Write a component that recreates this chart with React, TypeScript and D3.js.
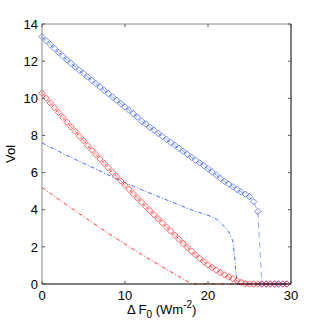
import React from 'react';
import * as d3 from 'd3';

// marker series sampled every 0.5 Wm^-2
const xGrid = [
  0, 0.5, 1, 1.5, 2, 2.5, 3, 3.5, 4, 4.5, 5, 5.5, 6, 6.5, 7, 7.5, 8, 8.5, 9, 9.5,
  10, 10.5, 11, 11.5, 12, 12.5, 13, 13.5, 14, 14.5, 15, 15.5, 16, 16.5, 17, 17.5, 18, 18.5, 19, 19.5,
  20, 20.5, 21, 21.5, 22, 22.5, 23, 23.5, 24, 24.5, 25, 25.5, 26, 26.5, 27, 27.5, 28, 28.5, 29, 29.5,
];

const blueMarkers = [
  13.32, 13.1, 12.89, 12.68, 12.47, 12.27, 12.07, 11.88, 11.69, 11.51, 11.33, 11.15, 10.97, 10.79, 10.61, 10.43, 10.25, 10.07, 9.89, 9.71,
  9.53, 9.35, 9.17, 8.99, 8.77, 8.61, 8.44, 8.28, 8.11, 7.95, 7.79, 7.63, 7.47, 7.31, 7.15, 6.99, 6.83, 6.67, 6.52, 6.37,
  6.21, 6.03, 5.86, 5.69, 5.53, 5.38, 5.23, 5.09, 4.96, 4.84, 4.7, 4.43, 3.9, 0, 0, 0, 0, 0, 0, 0,
];

const redMarkers = [
  10.27, 10.01, 9.75, 9.49, 9.23, 8.97, 8.71, 8.46, 8.21, 7.96, 7.71, 7.46, 7.21, 6.97, 6.73, 6.49, 6.25, 6.01, 5.78, 5.55,
  5.32, 5.09, 4.86, 4.63, 4.4, 4.17, 3.95, 3.73, 3.51, 3.29, 3.07, 2.85, 2.63, 2.41, 2.19, 1.98, 1.77, 1.57, 1.38, 1.2,
  1.03, 0.88, 0.74, 0.61, 0.49, 0.38, 0.28, 0.18, 0.09, 0.02, 0, 0, 0, 0, 0, 0, 0, 0, 0, 0,
];

const blueDashX = [0, 1, 2, 3, 4, 5, 6, 7, 8, 9, 10, 11, 12, 13, 14, 15, 16, 17, 18, 19, 20, 20.5, 21, 21.5, 22, 22.5, 23, 23.2, 23.35, 23.5, 30];
const blueDashY = [7.6, 7.37, 7.15, 6.93, 6.71, 6.5, 6.29, 6.08, 5.87, 5.66, 5.46, 5.27, 5.08, 4.89, 4.71, 4.53, 4.35, 4.17, 3.99, 3.84, 3.7, 3.61, 3.5, 3.3, 3.08, 2.8, 2.3, 1.5, 0.7, 0, 0];

const redDashX = [0, 1, 2, 3, 4, 5, 6, 7, 8, 9, 10, 11, 12, 13, 14, 15, 16, 17, 18, 18.5, 30];
const redDashY = [5.2, 4.88, 4.56, 4.25, 3.94, 3.63, 3.33, 3.03, 2.73, 2.44, 2.15, 1.87, 1.59, 1.32, 1.05, 0.79, 0.53, 0.27, 0.02, 0, 0];

const xTicks = [0, 10, 20, 30];
const yTicks = [0, 2, 4, 6, 8, 10, 12, 14];

const BLUE = '#4264f2';
const RED = '#ff3030';

const App = () => {
  const width = 322;
  const height = 322;
  const left = 42, right = 291, top = 24, bottom = 284;

  const x = d3.scaleLinear().domain([0, 30]).range([left, right]);
  const y = d3.scaleLinear().domain([0, 14]).range([bottom, top]);

  const line = d3
    .line<[number, number]>()
    .x((d) => x(d[0]))
    .y((d) => y(d[1]));

  const zip = (xs: number[], ys: number[]) => xs.map((v, i) => [v, ys[i]] as [number, number]);

  const blueMk = zip(xGrid, blueMarkers);
  const redMk = zip(xGrid, redMarkers);

  const diamond = (p: [number, number], color: string, key: string) => {
    const cx = x(p[0]);
    const cy = y(p[1]);
    const r = 3.2;
    return (
      <path
        key={key}
        d={`M${cx},${cy - r}L${cx + r},${cy}L${cx},${cy + r}L${cx - r},${cy}Z`}
        fill="none"
        stroke={color}
        strokeWidth={0.75}
      />
    );
  };

  const font = 'Liberation Sans, Arial, Helvetica, sans-serif';

  return (
    <svg
      width={width}
      height={height}
      style={{ position: 'absolute', left: 0, top: 0, background: '#fff' }}
      fontFamily={font}
    >
      <rect x={0} y={0} width={width} height={height} fill="#fff" />

      {/* lines */}
      <path d={line(zip(blueDashX, blueDashY)) || ''} fill="none" stroke={BLUE} strokeWidth={1} strokeDasharray="4,2,1,2" />
      <path d={line(zip(redDashX, redDashY)) || ''} fill="none" stroke={RED} strokeWidth={1} strokeDasharray="4,2,1,2" />
      <path d={line(blueMk) || ''} fill="none" stroke={BLUE} strokeWidth={0.8} strokeDasharray="6,4" strokeOpacity={0.7} />
      <path d={line(redMk) || ''} fill="none" stroke={RED} strokeWidth={0.8} strokeDasharray="6,4" strokeOpacity={0.7} />

      {/* markers */}
      {blueMk.map((p, i) => diamond(p, BLUE, `b${i}`))}
      {redMk.map((p, i) => diamond(p, RED, `r${i}`))}

      {/* axes box */}
      <line x1={left} y1={top} x2={right} y2={top} stroke="#888" strokeWidth={1} />
      <line x1={left} y1={top} x2={left} y2={bottom} stroke="#888" strokeWidth={1} />
      <line x1={right} y1={top} x2={right} y2={bottom} stroke="#000" strokeWidth={1} />
      <line x1={left} y1={bottom} x2={right} y2={bottom} stroke="#000" strokeWidth={1} />

      {/* ticks */}
      {yTicks.map((t) => (
        <g key={`yt${t}`}>
          <line x1={left} x2={left + 3} y1={y(t)} y2={y(t)} stroke="#555" />
          <line x1={right} x2={right - 3} y1={y(t)} y2={y(t)} stroke="#555" />
          <text x={left - 4} y={y(t)} dy="0.36em" textAnchor="end" fontSize={13}>
            {t}
          </text>
        </g>
      ))}
      {xTicks.map((t) => (
        <g key={`xt${t}`}>
          <line x1={x(t)} x2={x(t)} y1={bottom} y2={bottom - 3} stroke="#555" />
          <line x1={x(t)} x2={x(t)} y1={top} y2={top + 3} stroke="#555" />
          <text x={x(t)} y={300} textAnchor="middle" fontSize={13}>
            {t}
          </text>
        </g>
      ))}

      {/* axis labels */}
      <text x={127} y={314} fontSize={13}>
        Δ F
        <tspan fontSize={10} dy={4}>0</tspan>
        <tspan dy={-4}> (Wm</tspan>
        <tspan fontSize={10} dy={-6}>-2</tspan>
        <tspan dy={6}>)</tspan>
      </text>
      <text transform={`translate(15, ${(top + bottom) / 2}) rotate(-90)`} textAnchor="middle" fontSize={13}>
        Vol
      </text>
    </svg>
  );
};

export default App;
